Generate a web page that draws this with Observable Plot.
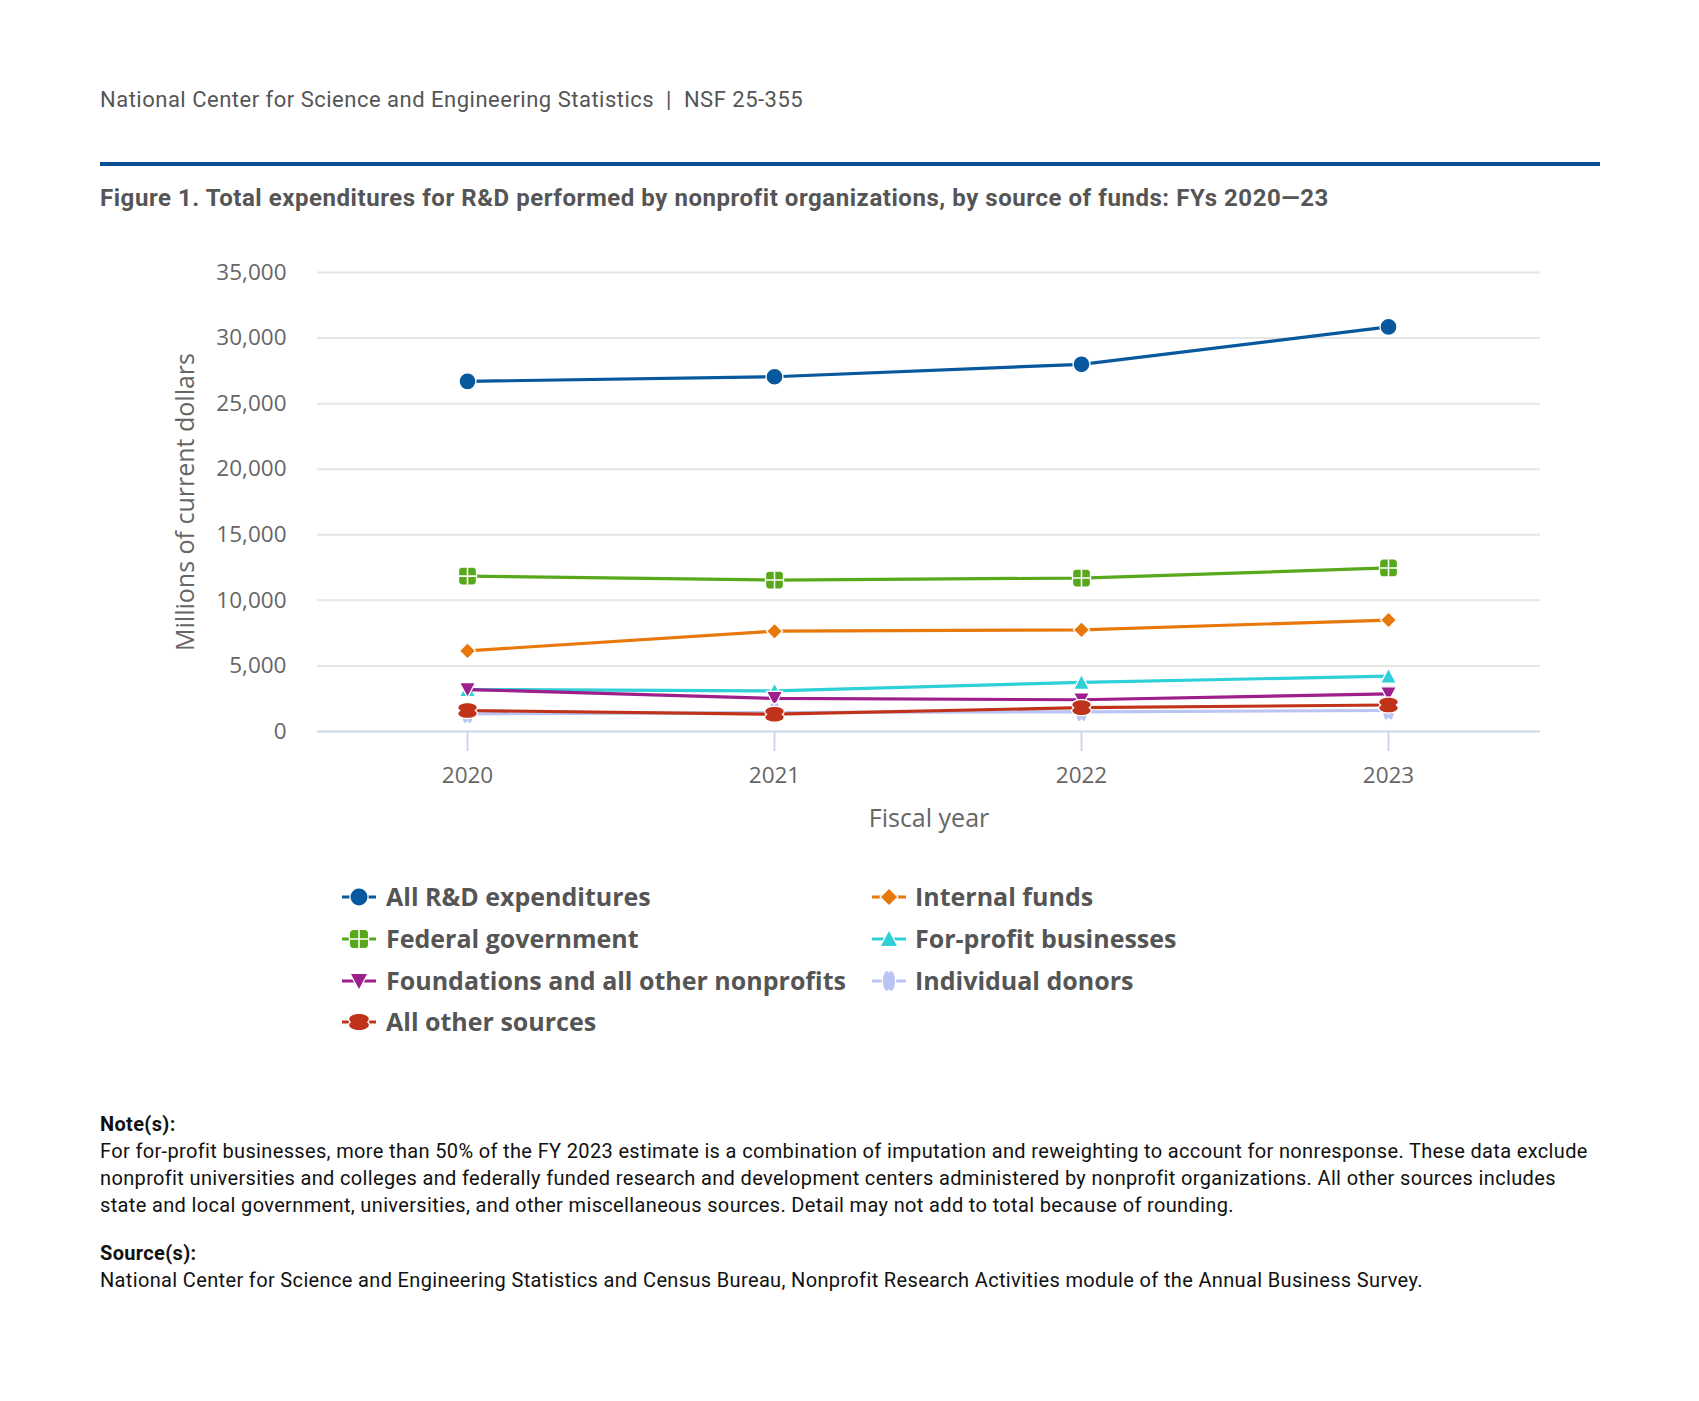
<!DOCTYPE html>
<html><head><meta charset="utf-8">
<script src="https://cdn.jsdelivr.net/npm/d3@7"></script>
<script src="https://cdn.jsdelivr.net/npm/@observablehq/plot@0.6"></script>
<style>
body{margin:0;background:#fff;width:1699px;height:1401px;position:relative;overflow:hidden;font-family:Roboto,sans-serif}
.abs{position:absolute;white-space:nowrap}
.leg{position:absolute;white-space:nowrap;font-family:"Open Sans",sans-serif;font-weight:bold;font-size:25px;color:#555;line-height:32px}
.note{position:absolute;white-space:nowrap;font-size:20px;letter-spacing:0.35px;color:#111;line-height:24px}
</style></head><body>
<div class="abs" style="left:100px;top:87px;font-size:22px;letter-spacing:0.5px;color:#555;line-height:26px">National Center for Science and Engineering Statistics&nbsp; |&nbsp; NSF 25-355</div>
<div class="abs" style="left:100px;top:162px;width:1500px;height:4px;background:#0b4f93"></div>
<div class="abs" style="left:100px;top:184px;font-size:24px;letter-spacing:0.55px;font-weight:bold;color:#555;line-height:28px">Figure 1. Total expenditures for R&amp;D performed by nonprofit organizations, by source of funds: FYs 2020—23</div>
<div id="chart" class="abs" style="left:0;top:230px"></div>
<div id="legend"></div>
<div class="note" style="left:100px;top:1112px;font-weight:bold">Note(s):</div>
<div class="note" style="left:100px;top:1139px">For for-profit businesses, more than 50% of the FY 2023 estimate is a combination of imputation and reweighting to account for nonresponse. These data exclude</div>
<div class="note" style="left:100px;top:1166px">nonprofit universities and colleges and federally funded research and development centers administered by nonprofit organizations. All other sources includes</div>
<div class="note" style="left:100px;top:1193px">state and local government, universities, and other miscellaneous sources. Detail may not add to total because of rounding.</div>
<div class="note" style="left:100px;top:1241px;font-weight:bold">Source(s):</div>
<div class="note" style="left:100px;top:1268px">National Center for Science and Engineering Statistics and Census Bureau, Nonprofit Research Activities module of the Annual Business Survey.</div>
<script>
// ---- data ----
const years = [2020, 2021, 2022, 2023];
const yTicks = [0, 5000, 10000, 15000, 20000, 25000, 30000, 35000];
const seriesNames = ["All R&D expenditures", "Internal funds", "Federal government", "For-profit businesses", "Foundations and all other nonprofits", "Individual donors", "All other sources"];
const allRD = [26700, 27050, 28000, 30850];
const internalFunds = [6150, 7650, 7750, 8500];
const federalGov = [11850, 11550, 11700, 12470];
const forProfit = [3200, 3100, 3750, 4220];
const foundations = [3200, 2520, 2420, 2870];
const individualDonors = [1350, 1450, 1500, 1600];
const allOther = [1600, 1320, 1820, 2020];
const seriesValues = [allRD, internalFunds, federalGov, forProfit, foundations, individualDonors, allOther];
const colors = ["#07589c", "#e8780a", "#58a81c", "#2fd0d8", "#9e1e8c", "#b9c4f2", "#c0331a"];

// ---- symbols ----
function ellipseArc(ctx, cx, cy, rx, ry, t0, t1, move) {
  const n = 24;
  for (let i = 0; i <= n; i++) {
    const t = t0 + (t1 - t0) * i / n;
    const x = cx + rx * Math.cos(t), y = cy + ry * Math.sin(t);
    if (i === 0 && move) ctx.moveTo(x, y); else ctx.lineTo(x, y);
  }
}
const a = Math.asin(0.6);
const symCircle = {draw(ctx) { ctx.moveTo(8.5, 0); ctx.arc(0, 0, 8.5, 0, 2 * Math.PI); ctx.closePath(); }};
const symSquare = {draw(ctx) {
  const h = 9, r = 3.5;
  ctx.moveTo(-h + r, -h);
  ctx.arcTo(h, -h, h, h, r); ctx.arcTo(h, h, -h, h, r); ctx.arcTo(-h, h, -h, -h, r); ctx.arcTo(-h, -h, h, -h, r);
  ctx.closePath();
}};
const symCross = {draw(ctx) { ctx.moveTo(-9, 0); ctx.lineTo(9, 0); ctx.moveTo(0, -9); ctx.lineTo(0, 9); }};
const symDiamond = {draw(ctx) { const d = 8; ctx.moveTo(0, -d); ctx.lineTo(d, 0); ctx.lineTo(0, d); ctx.lineTo(-d, 0); ctx.closePath(); }};
const symTriUp = {draw(ctx) { ctx.moveTo(0, -8); ctx.lineTo(8, 7); ctx.lineTo(-8, 7); ctx.closePath(); }};
const symTriDown = {draw(ctx) { ctx.moveTo(0, 8); ctx.lineTo(8, -7); ctx.lineTo(-8, -7); ctx.closePath(); }};
const symPinchH = {draw(ctx) {
  ellipseArc(ctx, 0, -3, 9.8, 5, Math.PI - a, 2 * Math.PI + a, true);
  ellipseArc(ctx, 0, 3, 9.8, 5, -a, Math.PI + a, false);
  ctx.closePath();
}};
const symPinchV = {draw(ctx) {
  const pts = [];
  const tmp = {moveTo(x, y) { pts.push([y, x, true]); }, lineTo(x, y) { pts.push([y, x, false]); }, closePath() {}};
  symPinchH.draw(tmp);
  pts.forEach(([x, y, m]) => m ? ctx.moveTo(x * 0.75, y) : ctx.lineTo(x * 0.75, y));
  ctx.closePath();
}};
const symbols = [symCircle, symDiamond, symSquare, symTriUp, symTriDown, symPinchV, symPinchH];

// ---- table ----
const rows = [];
seriesNames.forEach((name, i) => seriesValues[i].forEach((v, j) => rows.push({series: name, idx: i, year: years[j], value: v})));

const seriesMarks = [];
seriesNames.forEach((name, i) => {
  const d = rows.filter(r => r.idx === i);
  seriesMarks.push(Plot.line(d, {x: "year", y: "value", stroke: colors[i], strokeWidth: 3.2, curve: "linear"}));
  seriesMarks.push(Plot.dot(d, {x: "year", y: "value", symbol: symbols[i], r: 8, fill: colors[i], stroke: "white", strokeWidth: 1.3}));
  if (i === 2) seriesMarks.push(Plot.dot(d, {x: "year", y: "value", symbol: symCross, r: 8, fill: "none", stroke: "white", strokeWidth: 1.6}));
});

const chart = Plot.plot({
  width: 1699, height: 620,
  marginLeft: 317, marginRight: 159, marginTop: 42, marginBottom: 119,
  x: {type: "point", domain: years, range: [467, 1388], padding: 0},
  y: {domain: [0, 35000]},
  style: {fontFamily: "'Open Sans', sans-serif", background: "white", overflow: "visible"},
  marks: [
    Plot.gridY(yTicks.slice(1), {stroke: "#e6e6e6", strokeOpacity: 1, strokeWidth: 2}),
    Plot.axisY(yTicks, {tickSize: 0, tickPadding: 31, fontSize: 22.5, fill: "#666", tickFormat: d3.format(","), label: null}),
    Plot.axisX(years, {tickSize: 20, tickPadding: 16, stroke: "#ccd6eb", strokeWidth: 2, fontSize: 22.5, fill: "#666", tickFormat: d => String(d), label: null}),
    Plot.ruleY([0], {stroke: "#ccd6eb", strokeWidth: 2}),
    Plot.text(["Fiscal year"], {frameAnchor: "bottom", dy: 95, fontSize: 25, fill: "#666"}),
    Plot.text(["Millions of current dollars"], {frameAnchor: "left", textAnchor: "middle", dx: -132, rotate: -90, fontSize: 25, fill: "#666"}),
    ...seriesMarks
  ]
});
document.getElementById("chart").appendChild(chart);

// ---- legend ----
const legend = document.getElementById("legend");
const legendPos = [[0, 0], [1, 0], [0, 1], [1, 1], [0, 2], [1, 2], [0, 3]];
const colX = [342, 872], textX = [386, 915], rowY = [897, 939, 980.5, 1022];
seriesNames.forEach((name, i) => {
  const [c, r] = legendPos[i];
  const svg = d3.select(legend).append("svg").attr("width", 34).attr("height", 24)
    .style("position", "absolute").style("left", colX[c] + "px").style("top", (rowY[r] - 12) + "px");
  svg.append("line").attr("x1", 0).attr("x2", 34).attr("y1", 12).attr("y2", 12).attr("stroke", colors[i]).attr("stroke-width", 3);
  const p = d3.path(); symbols[i].draw(p);
  svg.append("path").attr("d", p.toString()).attr("transform", "translate(17,12)").attr("fill", colors[i]).attr("stroke", "white").attr("stroke-width", 2.5).attr("paint-order", "stroke");
  if (i === 2) { const q = d3.path(); symCross.draw(q); svg.append("path").attr("d", q.toString()).attr("transform", "translate(17,12)").attr("stroke", "white").attr("stroke-width", 1.6); }
  d3.select(legend).append("div").attr("class", "leg").style("left", textX[c] + "px").style("top", (rowY[r] - 17) + "px").text(name);
});
</script>
</body></html>
